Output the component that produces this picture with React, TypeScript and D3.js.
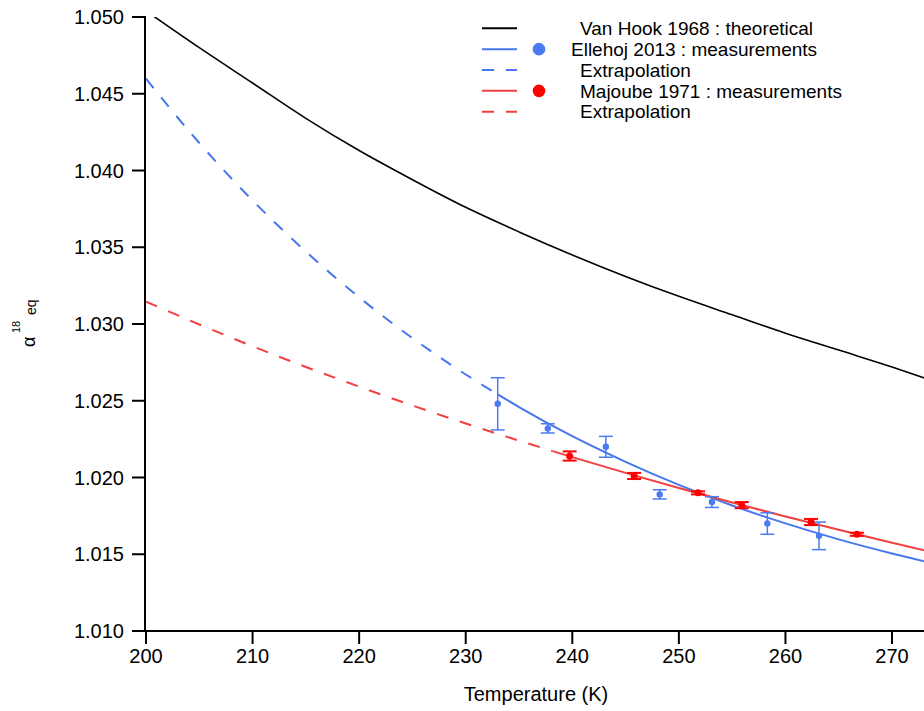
import React from 'react';
import * as d3 from 'd3';

// ---------- data ----------
const xTicks = [200, 210, 220, 230, 240, 250, 260, 270];
const yTicks = [1.010, 1.015, 1.020, 1.025, 1.030, 1.035, 1.040, 1.045, 1.050];

// Van Hook 1968 theoretical curve
const vanHookT = [200, 205, 210, 215, 220, 225, 230, 235, 240, 245, 250, 255, 260, 265, 270, 273.15];
const vanHookA = [1.0504, 1.0480, 1.0457, 1.0434, 1.0413, 1.0394, 1.0376, 1.0360, 1.0345, 1.0331, 1.0318, 1.0306, 1.0294, 1.0283, 1.0272, 1.02645];

// Ellehoj 2013 fit curve
const ellehojT = [200, 205, 210, 215, 220, 225, 230, 233, 235, 240, 245, 250, 255, 260, 265, 270, 273.15];
const ellehojA = [1.04598, 1.04179, 1.03805, 1.03472, 1.03174, 1.02908, 1.02671, 1.02542, 1.02459, 1.02269, 1.02102, 1.01952, 1.01818, 1.01701, 1.01597, 1.01505, 1.01452];
const ellehojMeasuredFrom = 233;

// Majoube 1971 fit curve
const majoubeT = [200, 205, 210, 215, 220, 225, 230, 235, 238.15, 240, 245, 250, 255, 260, 265, 270, 273.15];
const majoubeA = [1.03146, 1.02997, 1.02855, 1.02720, 1.02592, 1.02469, 1.02352, 1.02240, 1.02172, 1.02133, 1.02030, 1.01932, 1.01837, 1.01746, 1.01659, 1.01575, 1.01523];
const majoubeMeasuredFrom = 238.15;

// measurements
const ellehojPtT = [233.0, 237.7, 243.15, 248.2, 253.1, 258.3, 263.15];
const ellehojPtA = [1.0248, 1.0232, 1.0220, 1.0189, 1.0184, 1.0170, 1.0162];
const ellehojPtErr = [0.0017, 0.0003, 0.00068, 0.0003, 0.00035, 0.0007, 0.0009];

const majoubePtT = [239.75, 245.8, 251.8, 255.9, 262.4, 266.7];
const majoubePtA = [1.0214, 1.0201, 1.0190, 1.0182, 1.0171, 1.0163];
const majoubePtErr = [0.0003, 0.0002, 0.0001, 0.0002, 0.0002, 0.0001];

const legendLabels = [
  'Van Hook 1968 : theoretical',
  'Ellehoj 2013 : measurements',
  'Extrapolation',
  'Majoube 1971 : measurements',
  'Extrapolation',
];

// ---------- styles ----------
const W = 924;
const H = 711;
const FONT = '"Liberation Sans", Arial, Helvetica, sans-serif';
const BLUE = '#4677ef';
const BLUE_PT = '#4a7bf2';
const RED = '#f2403f';
const RED_PT = '#ff0000';
const BLACK = '#000000';

export default function App() {
  const x = d3.scaleLinear().domain([200, 273.15]).range([146, 925.6]);
  const y = d3.scaleLinear().domain([1.010, 1.050]).range([631, 17]);

  const line = d3
    .line<[number, number]>()
    .x((d) => x(d[0]))
    .y((d) => y(d[1]))
    .curve(d3.curveMonotoneX);

  const zip = (ts: number[], as: number[]) => ts.map((t, i) => [t, as[i]] as [number, number]);

  const vh = zip(vanHookT, vanHookA);
  const el = zip(ellehojT, ellehojA);
  const mj = zip(majoubeT, majoubeA);

  const elDash = el.filter((d) => d[0] <= ellehojMeasuredFrom);
  const elSolid = el.filter((d) => d[0] >= ellehojMeasuredFrom);
  const mjDash = mj.filter((d) => d[0] <= majoubeMeasuredFrom);
  const mjSolid = mj.filter((d) => d[0] >= majoubeMeasuredFrom);

  const fmt = d3.format('.3f');

  const legendY0 = 28.3;
  const legendDy = 20.85;
  const legendItems = [
    { color: BLACK, dash: null, dot: null, tx: 580 },
    { color: BLUE, dash: null, dot: BLUE_PT, tx: 571 },
    { color: BLUE, dash: '12,12', dot: null, tx: 580 },
    { color: RED, dash: null, dot: RED_PT, tx: 580 },
    { color: RED, dash: '12,12', dot: null, tx: 580 },
  ];

  return (
    <svg
      width={W}
      height={H}
      style={{ position: 'absolute', left: 0, top: 0, display: 'block', background: '#fff' }}
      fontFamily={FONT}
    >
      <defs>
        <clipPath id="plot">
          <rect x={146} y={17} width={W - 146} height={631 - 17} />
        </clipPath>
      </defs>

      {/* curves */}
      <g clipPath="url(#plot)" fill="none">
        <path d={line(vh) || ''} stroke={BLACK} strokeWidth={1.6} />
        <path d={line(elDash) || ''} stroke={BLUE} strokeWidth={2} strokeDasharray="12,12" />
        <path d={line(elSolid) || ''} stroke={BLUE} strokeWidth={2} />
        <path d={line(mjDash) || ''} stroke={RED} strokeWidth={2} strokeDasharray="12,12" />
        <path d={line(mjSolid) || ''} stroke={RED} strokeWidth={2} />
      </g>

      {/* error bars + points: Ellehoj */}
      <g stroke={BLUE_PT} strokeWidth={1.5} fill="none">
        {ellehojPtT.map((t, i) => {
          const cx = x(t);
          const y1 = y(ellehojPtA[i] + ellehojPtErr[i]);
          const y2 = y(ellehojPtA[i] - ellehojPtErr[i]);
          return (
            <g key={'eb' + i}>
              <line x1={cx} x2={cx} y1={y1} y2={y2} />
              <line x1={cx - 7} x2={cx + 7} y1={y1} y2={y1} />
              <line x1={cx - 7} x2={cx + 7} y1={y2} y2={y2} />
            </g>
          );
        })}
      </g>
      {ellehojPtT.map((t, i) => (
        <circle key={'ep' + i} cx={x(t)} cy={y(ellehojPtA[i])} r={3.2} fill={BLUE_PT} />
      ))}

      {/* error bars + points: Majoube */}
      <g stroke={RED_PT} strokeWidth={2} fill="none">
        {majoubePtT.map((t, i) => {
          const cx = x(t);
          const y1 = y(majoubePtA[i] + majoubePtErr[i]);
          const y2 = y(majoubePtA[i] - majoubePtErr[i]);
          return (
            <g key={'mb' + i}>
              <line x1={cx} x2={cx} y1={y1} y2={y2} />
              <line x1={cx - 7} x2={cx + 7} y1={y1} y2={y1} />
              <line x1={cx - 7} x2={cx + 7} y1={y2} y2={y2} />
            </g>
          );
        })}
      </g>
      {majoubePtT.map((t, i) => (
        <circle key={'mp' + i} cx={x(t)} cy={y(majoubePtA[i])} r={3.5} fill={RED_PT} />
      ))}

      {/* y axis */}
      <line x1={145} x2={145} y1={16} y2={632} stroke={BLACK} strokeWidth={2} />
      {yTicks.map((v) => (
        <g key={'yt' + v}>
          <line x1={132} x2={145} y1={y(v)} y2={y(v)} stroke={BLACK} strokeWidth={2} />
          <text x={124} y={y(v)} dy="0.36em" textAnchor="end" fontSize={20} fill={BLACK}>
            {fmt(v)}
          </text>
        </g>
      ))}

      {/* x axis */}
      <line x1={144} x2={W} y1={631} y2={631} stroke={BLACK} strokeWidth={2} />
      {xTicks.map((v) => (
        <g key={'xt' + v}>
          <line x1={x(v)} x2={x(v)} y1={631} y2={644} stroke={BLACK} strokeWidth={2} />
          <text x={x(v)} y={663} textAnchor="middle" fontSize={20} fill={BLACK}>
            {v}
          </text>
        </g>
      ))}
      <text x={536} y={701} textAnchor="middle" fontSize={20} fill={BLACK}>
        Temperature (K)
      </text>

      {/* y axis title */}
      <g transform="rotate(-90)" fill={BLACK}>
        <text x={-347} y={35} fontSize={18}>α</text>
        <text x={-333} y={20} fontSize={11}>18</text>
        <text x={-315} y={36} fontSize={14}>eq</text>
      </g>

      {/* legend */}
      {legendItems.map((it, i) => {
        const ly = legendY0 + i * legendDy;
        return (
          <g key={'lg' + i}>
            <line
              x1={482}
              x2={517}
              y1={ly}
              y2={ly}
              stroke={it.color}
              strokeWidth={2}
              strokeDasharray={it.dash || undefined}
            />
            {it.dot && <circle cx={539} cy={ly} r={6.3} fill={it.dot} />}
            <text x={it.tx} y={ly + 6.7} fontSize={19} fill={BLACK}>
              {legendLabels[i]}
            </text>
          </g>
        );
      })}
    </svg>
  );
}
